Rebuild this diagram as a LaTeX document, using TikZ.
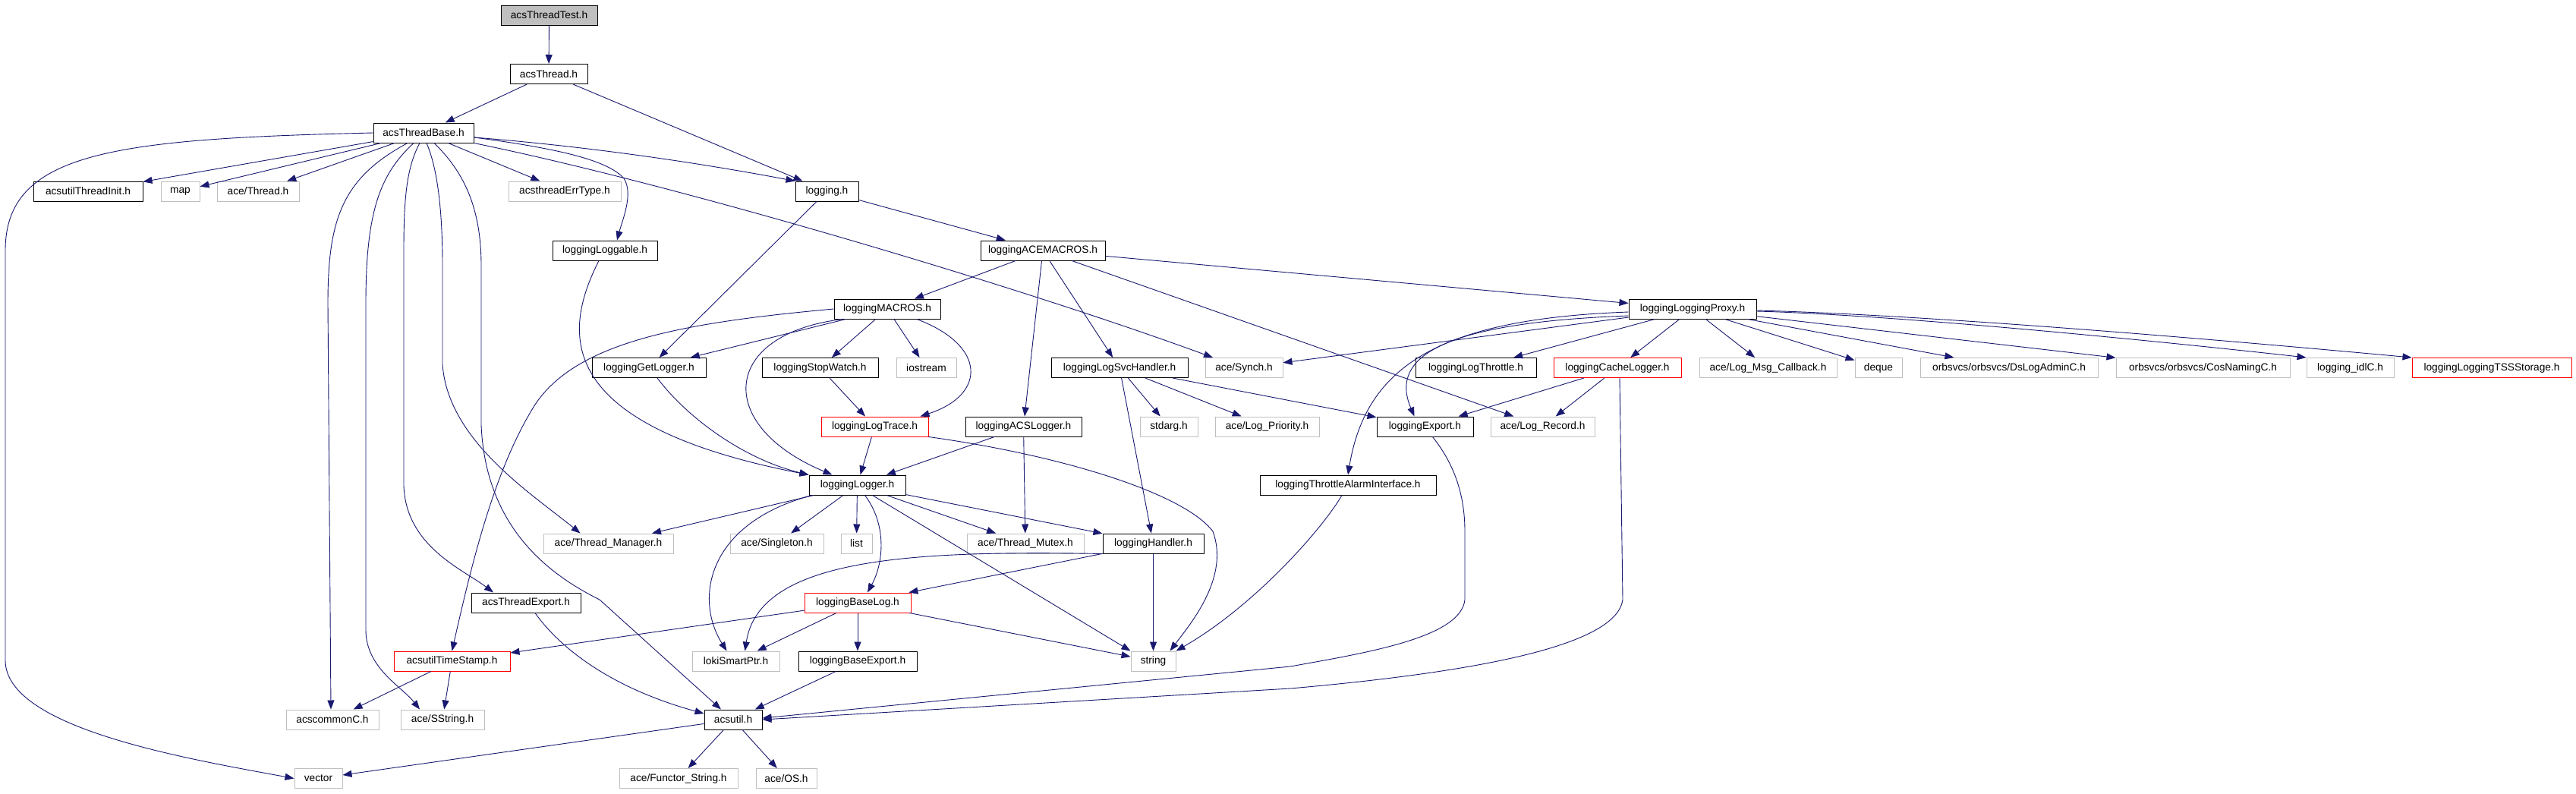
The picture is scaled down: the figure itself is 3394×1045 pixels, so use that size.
\documentclass[tikz,border=0pt]{standalone}
\usepackage{fontspec}
\setmainfont{Liberation Sans}
\usetikzlibrary{arrows.meta}

\definecolor{edgeblue}{HTML}{191970}
\definecolor{extgrey}{HTML}{BFBFBF}
\definecolor{nodegrey}{HTML}{BFBFBF}

\tikzset{
  file/.style={draw=black, rectangle, line width=1pt, minimum height=26pt, inner sep=0pt,
    font=\fontsize{13.7}{16}\selectfont},
  extfile/.style={file, draw=extgrey},
  redfile/.style={file, draw=red},
  dep/.style={draw=edgeblue, line width=0.9pt, -{Triangle[length=12pt,width=9pt]}}
}

\begin{document}
\begin{tikzpicture}[x=1pt, y=-1pt]
        \fill[white] (0,0) rectangle (3394,1045);
        \useasboundingbox (0,0) rectangle (3394,1045);

        % Files, one row per level
        \node (test)        [file, fill=nodegrey, minimum width=127pt] at (723.5,20)   {acsThreadTest.h};
        \node (thread)      [file, minimum width=102pt] at (723,97.5)    {acsThread.h};
        \node (base)        [file, minimum width=132pt] at (558,175)     {acsThreadBase.h};

        \node (threadinit)  [file, minimum width=144pt]    at (116,252)    {acsutilThreadInit.h};
        \node (map)         [extfile, minimum width=51pt]  at (237.5,252)  {map};
        \node (acethread)   [extfile, minimum width=108pt] at (340,252)    {ace/Thread.h};
        \node (errtype)     [extfile, minimum width=148pt] at (744,252)    {acsthreadErrType.h};
        \node (logging)     [file, minimum width=83pt]     at (1089.5,252) {logging.h};

        \node (loggable)    [file, minimum width=138pt] at (797,330)  {loggingLoggable.h};
        \node (acemacros)   [file, minimum width=164pt] at (1374,330) {loggingACEMACROS.h};

        \node (macros)      [file, minimum width=140pt] at (1169,407) {loggingMACROS.h};
        \node (proxy)       [file, minimum width=168pt] at (2230,407) {loggingLoggingProxy.h};

        \node (getlogger)   [file, minimum width=150pt]    at (855,484.5)    {loggingGetLogger.h};
        \node (stopwatch)   [file, minimum width=153pt]    at (1080.5,484.5) {loggingStopWatch.h};
        \node (iostream)    [extfile, minimum width=79pt]  at (1220.5,484.5) {iostream};
        \node (svchandler)  [file, minimum width=180pt]    at (1475,484.5)   {loggingLogSvcHandler.h};
        \node (synch)       [extfile, minimum width=102pt] at (1639,484.5)   {ace/Synch.h};
        \node (throttle)    [file, minimum width=159pt]    at (1944.5,484.5) {loggingLogThrottle.h};
        \node (cachelogger) [redfile, minimum width=168pt] at (2131,484.5)   {loggingCacheLogger.h};
        \node (msgcallback) [extfile, minimum width=181pt] at (2329.5,484.5) {ace/Log\_Msg\_Callback.h};
        \node (deque)       [extfile, minimum width=62pt]  at (2475,484.5)   {deque};
        \node (dslogadmin)  [extfile, minimum width=234pt] at (2647,484.5)   {orbsvcs/orbsvcs/DsLogAdminC.h};
        \node (cosnaming)   [extfile, minimum width=229pt] at (2902.5,484.5) {orbsvcs/orbsvcs/CosNamingC.h};
        \node (idlc)        [extfile, minimum width=115pt] at (3096.5,484.5) {logging\_idlC.h};
        \node (tssstorage)  [redfile, minimum width=210pt] at (3283,484.5)   {loggingLoggingTSSStorage.h};

        \node (logtrace)    [redfile, minimum width=141pt] at (1152.5,562) {loggingLogTrace.h};
        \node (acslogger)   [file, minimum width=153pt]    at (1348.5,562) {loggingACSLogger.h};
        \node (stdarg)      [extfile, minimum width=76pt]  at (1540,562)   {stdarg.h};
        \node (logpriority) [extfile, minimum width=137pt] at (1669.5,562) {ace/Log\_Priority.h};
        \node (export)      [file, minimum width=127pt]    at (1877.5,562) {loggingExport.h};
        \node (logrecord)   [extfile, minimum width=137pt] at (2032.5,562) {ace/Log\_Record.h};

        \node (logger)      [file, minimum width=127pt] at (1129.5,639) {loggingLogger.h};
        \node (alarm)       [file, minimum width=232pt] at (1776,639)   {loggingThrottleAlarmInterface.h};

        \node (threadmgr)   [extfile, minimum width=171pt] at (801.5,716)  {ace/Thread\_Manager.h};
        \node (singleton)   [extfile, minimum width=123pt] at (1023.5,716) {ace/Singleton.h};
        \node (list)        [extfile, minimum width=41pt]  at (1128.5,716) {list};
        \node (mutex)       [extfile, minimum width=154pt] at (1351,716)   {ace/Thread\_Mutex.h};
        \node (handler)     [file, minimum width=133pt]    at (1519.5,716) {loggingHandler.h};

        \node (threadexport) [file, minimum width=144pt]   at (693,794)  {acsThreadExport.h};
        \node (baselog)      [redfile, minimum width=140pt] at (1130,794) {loggingBaseLog.h};

        \node (timestamp)   [redfile, minimum width=153pt] at (595.5,871)  {acsutilTimeStamp.h};
        \node (loki)        [extfile, minimum width=115pt] at (969.5,871)  {lokiSmartPtr.h};
        \node (baseexport)  [file, minimum width=156pt]    at (1130,871)   {loggingBaseExport.h};
        \node (string)      [extfile, minimum width=59pt]  at (1519.5,871) {string};

        \node (acscommon)   [extfile, minimum width=122pt] at (438,948) {acscommonC.h};
        \node (sstring)     [extfile, minimum width=110pt] at (583,948) {ace/SString.h};
        \node (acsutil)     [file, minimum width=76pt]     at (966,948) {acsutil.h};

        \node (vector)      [extfile, minimum width=63pt]  at (419.5,1025.5) {vector};
        \node (functor)     [extfile, minimum width=156pt] at (894,1025.5)   {ace/Functor\_String.h};
        \node (aceos)       [extfile, minimum width=80pt]  at (1036,1025.5)  {ace/OS.h};

        % Top of the graph
        \draw[dep] (test) -- (thread);
        \draw[dep] (thread) -- (base);
        \draw[dep] (thread) -- (logging);

        % acsThreadBase.h
        \draw[dep] (base) -- (threadinit);
        \draw[dep] (base) -- (map);
        \draw[dep] (base) -- (acethread);
        \draw[dep] (base) -- (errtype);
        \draw[dep] ([yshift=-6pt]base.east) .. controls (800,195) and (950,220) .. (logging.north west);
        \draw[dep] ([yshift=-6pt]base.east) .. controls (730,195) and (800,210) .. (822,235)
                   .. controls (835,255) and (820,290) .. ([xshift=16pt]loggable.north);
        \draw[dep] (base.south east) .. controls (900,245) and (1350,380) .. ([xshift=-41pt]synch.north);
        \draw[dep] (base.west) .. controls (150,183) and (7,200) .. (7,330) -- (7,870)
                   .. controls (7,960) and (250,1000) .. (vector.west);
        \draw[dep] ([xshift=-21pt]base.south) .. controls (450,235) and (432,290) .. (432,400)
                   -- ([xshift=-2pt]acscommon.north);
        \draw[dep] ([xshift=-13pt]base.south) .. controls (500,230) and (482,280) .. (482,400) -- (482,830)
                   .. controls (482,880) and (530,905) .. ([xshift=-30pt]sstring.north);
        \draw[dep] ([xshift=-5pt]base.south) .. controls (536,220) and (532,260) .. (532,330) -- (532,640)
                   .. controls (535,720) and (610,750) .. ([xshift=-43pt]threadexport.north);
        \draw[dep] ([xshift=4pt]base.south) .. controls (580,230) and (583,300) .. (583,350) -- (583,480)
                   .. controls (590,580) and (700,650) .. ([xshift=-37pt]threadmgr.north);
        \draw[dep] ([xshift=14pt]base.south) .. controls (615,230) and (634,280) .. (634,350) -- (634,560)
                   .. controls (640,700) and (730,760) .. (790,790) -- ([xshift=-16pt]acsutil.north);

        % logging.h and loggingACEMACROS.h
        \draw[dep] (logging) -- (getlogger);
        \draw[dep] (logging) -- (acemacros);
        \draw[dep] (acemacros) -- (macros);
        \draw[dep] (acemacros) -- (acslogger);
        \draw[dep] (acemacros) -- (svchandler);
        \draw[dep] (acemacros) -- (logrecord);
        \draw[dep] (acemacros) -- (proxy);

        % loggingMACROS.h
        \draw[dep] (macros) -- (getlogger);
        \draw[dep] (macros) -- (stopwatch);
        \draw[dep] (macros) -- (iostream);
        \draw[dep] ([xshift=39pt]macros.south) .. controls (1300,455) and (1300,520) .. ([xshift=60pt]logtrace.north);
        \draw[dep] ([xshift=-59pt]macros.south) .. controls (950,440) and (940,560) .. ([xshift=-33pt]logger.north);
        \draw[dep] (macros.west) .. controls (900,425) and (760,450) .. (705,533)
                   .. controls (650,620) and (620,750) .. (timestamp.north);

        \draw[dep] ([xshift=11pt]getlogger.south) .. controls (905,550) and (980,605) .. (logger.north west);
        \draw[dep] ([xshift=-8pt]loggable.south) .. controls (740,440) and (730,560) .. (logger.north west);
        \draw[dep] (stopwatch) -- (logtrace);
        \draw[dep] (logtrace) -- (logger);
        \draw[dep] (logtrace.south east) .. controls (1400,600) and (1560,650) .. (1598,700)
                   .. controls (1620,760) and (1570,820) .. ([xshift=22pt]string.north);
        \draw[dep] (acslogger) -- (logger);
        \draw[dep] (acslogger) -- (mutex);

        % loggingLogSvcHandler.h
        \draw[dep] (svchandler) -- (stdarg);
        \draw[dep] (svchandler) -- (logpriority);
        \draw[dep] (svchandler) -- (export);
        \draw[dep] (svchandler) -- (handler);

        % loggingLogger.h
        \draw[dep] (logger) -- (threadmgr);
        \draw[dep] ([xshift=-60pt]logger.south) .. controls (930,690) and (915,790) .. ([xshift=-12pt]loki.north);
        \draw[dep] (logger) -- (singleton);
        \draw[dep] (logger) -- (list);
        \draw[dep] ([xshift=10pt]logger.south) .. controls (1168,690) and (1165,740) .. ([xshift=13pt]baselog.north);
        \draw[dep] ([xshift=20pt]logger.south) -- (string.north west);
        \draw[dep] (logger) -- (mutex);
        \draw[dep] (logger) -- (handler);

        % loggingLoggingProxy.h
        \draw[dep] (proxy) -- (synch);
        \draw[dep] ([yshift=-4pt]proxy.west) .. controls (1900,420) and (1800,480) .. (alarm.north);
        \draw[dep] ([yshift=-9pt]proxy.west) .. controls (1900,425) and (1830,470) .. ([xshift=-14pt]export.north);
        \draw[dep] (proxy) -- (throttle);
        \draw[dep] (proxy) -- (cachelogger);
        \draw[dep] (proxy) -- (msgcallback);
        \draw[dep] (proxy) -- (deque);
        \draw[dep] (proxy) -- (dslogadmin);
        \draw[dep] (proxy) -- (cosnaming);
        \draw[dep] ([yshift=-3pt]proxy.east) .. controls (2500,415) and (2850,450) .. (idlc.north west);
        \draw[dep] ([yshift=-2pt]proxy.east) .. controls (2550,415) and (2950,450) .. (tssstorage.north west);

        % loggingCacheLogger.h and loggingExport.h
        \draw[dep] (cachelogger) -- (export);
        \draw[dep] (cachelogger) -- (logrecord);
        \draw[dep] ([xshift=3pt]cachelogger.south) -- (2138,790) .. controls (2130,850) and (1950,885) .. (1700,907)
                   -- (acsutil.east);
        \draw[dep] ([xshift=10pt]export.south) .. controls (1915,610) and (1930,650) .. (1930,700) -- (1930,790)
                   .. controls (1925,840) and (1800,860) .. (1700,878) -- ([yshift=2pt]acsutil.east);
        \draw[dep] ([xshift=-8pt]alarm.south) .. controls (1740,700) and (1650,800) .. (string.north east);

        % loggingHandler.h and loggingBaseLog.h
        \draw[dep] (handler) -- (string);
        \draw[dep] (handler) -- (baselog);
        \draw[dep] (handler.south west) .. controls (1200,725) and (1000,735) .. ([xshift=12pt]loki.north);
        \draw[dep] (baselog) -- (timestamp);
        \draw[dep] (baselog) -- (loki);
        \draw[dep] (baselog) -- (baseexport);
        \draw[dep] (baselog) -- (string);

        % Bottom of the graph
        \draw[dep] (baseexport) -- (acsutil);
        \draw[dep] ([xshift=12pt]threadexport.south) .. controls (735,850) and (800,905) .. ([yshift=8pt]acsutil.west);
        \draw[dep] (timestamp) -- (acscommon);
        \draw[dep] (timestamp) -- (sstring);
        \draw[dep] (acsutil) -- (vector);
        \draw[dep] (acsutil) -- (functor);
        \draw[dep] (acsutil) -- (aceos);
      \end{tikzpicture}
\end{document}
